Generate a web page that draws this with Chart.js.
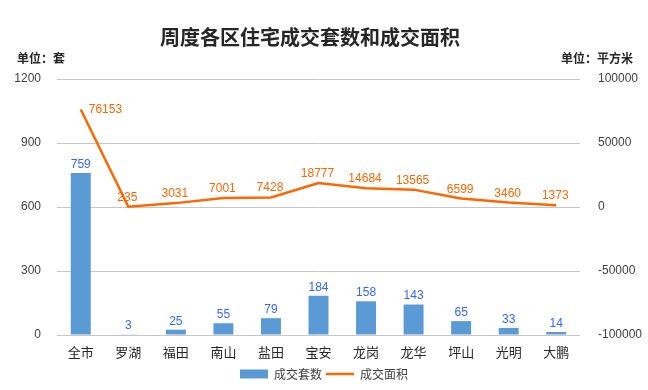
<!DOCTYPE html>
<html>
<head>
<meta charset="utf-8">
<script src="https://cdn.jsdelivr.net/npm/chart.js@4"></script>
<style>
body { margin: 0; background: #fff; }
#wrap { width: 648px; height: 390px; }
</style>
</head>
<body>
<div id="wrap"><canvas id="myChart"></canvas></div>
<script>
var districts = ['全市', '罗湖', '福田', '南山', '盐田', '宝安', '龙岗', '龙华', '坪山', '光明', '大鹏'];
var dealUnits = [759, 3, 25, 55, 79, 184, 158, 143, 65, 33, 14];
var dealArea = [76153, 235, 3031, 7001, 7428, 18777, 14684, 13565, 6599, 3460, 1373];
var leftTicks = [0, 300, 600, 900, 1200];
var rightTicks = [-100000, -50000, 0, 50000, 100000];

var numFont = '"Liberation Sans", Arial, sans-serif';
var cjkFont = '"Noto Sans CJK SC", sans-serif';

// title, unit captions and value labels
var decorations = {
    id: 'decorations',
    afterDatasetsDraw: function (chart) {
        var ctx = chart.ctx;
        ctx.save();
        ctx.font = '12px ' + numFont;
        ctx.textAlign = 'center';
        ctx.textBaseline = 'alphabetic';
        ctx.fillStyle = '#3366ff';
        chart.getDatasetMeta(1).data.forEach(function (bar, i) {
            ctx.fillText(dealUnits[i], bar.x, bar.y - 5);
        });
        ctx.fillStyle = '#ff6600';
        chart.getDatasetMeta(0).data.forEach(function (pt, i) {
            if (i == 0) {
                ctx.textAlign = 'left';
                ctx.textBaseline = 'middle';
                ctx.fillText(dealArea[i], pt.x + 8, pt.y);
            } else {
                ctx.textAlign = 'center';
                ctx.textBaseline = 'alphabetic';
                ctx.fillText(dealArea[i], pt.x - 1, pt.y - 6);
            }
        });
        ctx.restore();
    },
    afterDraw: function (chart) {
        var ctx = chart.ctx;
        ctx.save();
        ctx.fillStyle = '#262626';
        ctx.textBaseline = 'middle';
        ctx.textAlign = 'center';
        ctx.font = 'bold 20px ' + cjkFont;
        ctx.fillText('周度各区住宅成交套数和成交面积', 310, 37);
        ctx.font = 'bold 12px ' + cjkFont;
        ctx.textAlign = 'left';
        ctx.fillText('单位：套', 17, 58);
        ctx.textAlign = 'right';
        ctx.fillText('单位：平方米', 633, 58);
        ctx.restore();
    }
};

function plain(v) { return String(v); }

new Chart('myChart', {
    type: 'bar',
    data: {
        labels: districts,
        datasets: [{
            type: 'line',
            label: '成交面积',
            data: dealArea,
            yAxisID: 'yRight',
            borderColor: '#ff6600',
            backgroundColor: '#ff6600',
            borderWidth: 2.5,
            pointRadius: 0,
            pointStyle: 'line',
            tension: 0,
            order: 1
        }, {
            type: 'bar',
            label: '成交套数',
            data: dealUnits,
            yAxisID: 'yLeft',
            backgroundColor: '#5b9bd5',
            pointStyle: 'rect',
            barPercentage: 0.42,
            categoryPercentage: 1.0,
            order: 2
        }]
    },
    options: {
        responsive: true,
        maintainAspectRatio: false,
        animation: false,
        layout: { padding: { top: 79, left: 0, right: 0, bottom: 0 } },
        plugins: {
            title: { display: false },
            tooltip: { enabled: false },
            legend: {
                position: 'bottom',
                labels: {
                    usePointStyle: true,
                    pointStyleWidth: 28,
                    boxHeight: 9,
                    padding: 4,
                    color: '#404040',
                    font: { family: cjkFont, size: 12 },
                    sort: function (a, b) { return b.datasetIndex - a.datasetIndex; }
                }
            }
        },
        scales: {
            x: {
                grid: { display: false },
                border: { display: false },
                ticks: { color: '#262626', font: { family: cjkFont, size: 13 }, padding: 1 },
                afterFit: function (s) { s.height = 29; }
            },
            yLeft: {
                position: 'left',
                min: 0,
                max: 1200,
                afterBuildTicks: function (s) { s.ticks = leftTicks.map(function (v) { return { value: v }; }); },
                grid: { color: '#c6c6c6', lineWidth: 1, drawTicks: false },
                border: { display: false },
                ticks: { color: '#404040', font: { family: numFont, size: 12 }, padding: 16, callback: plain },
                afterFit: function (s) { s.width = 57; }
            },
            yRight: {
                position: 'right',
                min: -100000,
                max: 100000,
                afterBuildTicks: function (s) { s.ticks = rightTicks.map(function (v) { return { value: v }; }); },
                grid: { display: false },
                border: { display: false },
                ticks: { color: '#404040', font: { family: numFont, size: 12 }, padding: 10, callback: plain },
                afterFit: function (s) { s.width = 68; }
            }
        }
    },
    plugins: [decorations]
});
</script>
</body>
</html>
